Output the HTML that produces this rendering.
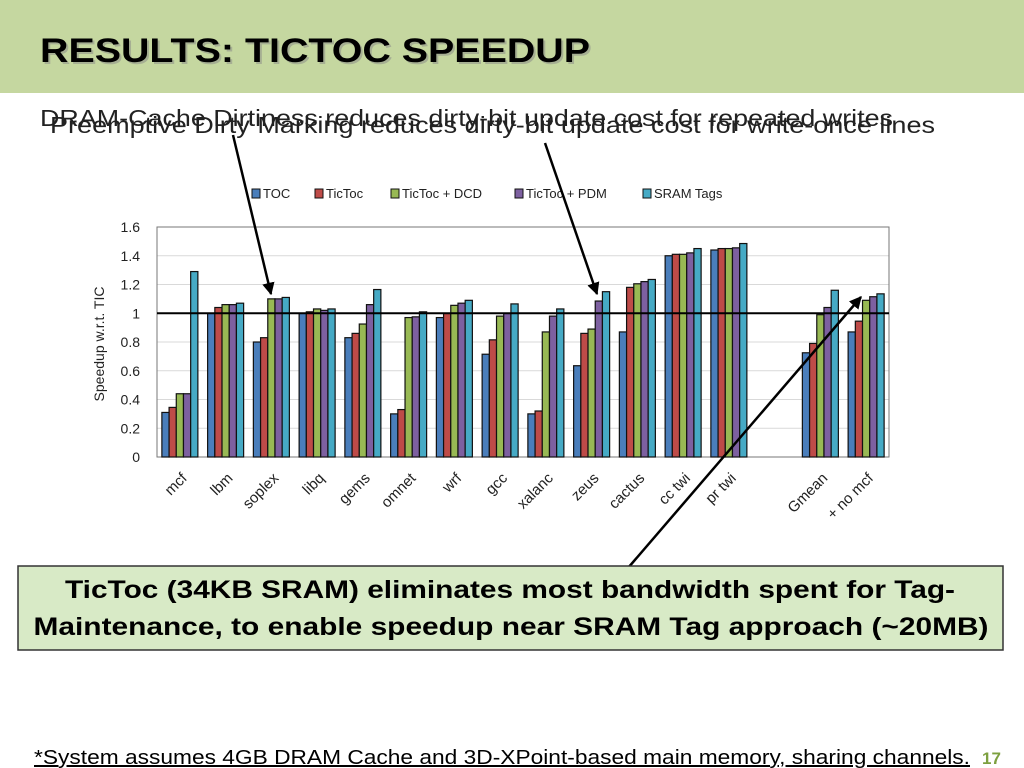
<!DOCTYPE html>
<html><head><meta charset="utf-8"><style>
body{margin:0;width:1024px;height:768px;overflow:hidden;background:#fff;font-family:"Liberation Sans",sans-serif}
svg{display:block}
</style></head><body>
<svg id="s" width="1024" height="768" xmlns="http://www.w3.org/2000/svg">
<defs><marker id="ah" viewBox="0 0 10 10" refX="9" refY="5" markerWidth="5" markerHeight="5" orient="auto"><path d="M0,0 L10,5 L0,10 z" fill="#000"/></marker></defs>
<rect x="0" y="0" width="1024" height="93" fill="#c5d7a0"/>
<text x="42" y="64" font-size="34" font-weight="bold" fill="#888" textLength="550" lengthAdjust="spacingAndGlyphs" opacity="0.5">RESULTS: TICTOC SPEEDUP</text>
<text x="40" y="62" font-size="34" font-weight="bold" fill="#000" textLength="550" lengthAdjust="spacingAndGlyphs">RESULTS: TICTOC SPEEDUP</text>
<text x="40" y="126" font-size="23" fill="#222" textLength="853" lengthAdjust="spacingAndGlyphs">DRAM-Cache Dirtiness reduces dirty-bit update cost for repeated writes</text>
<text x="50" y="133" font-size="23" fill="#222" textLength="885" lengthAdjust="spacingAndGlyphs">Preemptive Dirty Marking reduces dirty-bit update cost for write-once lines</text>
<g id="legend"></g>
<g id="chart"></g>
<line x1="233" y1="135" x2="271" y2="294" stroke="#000" stroke-width="2.5" marker-end="url(#ah)"/>
<line x1="545" y1="143" x2="597" y2="294" stroke="#000" stroke-width="2.5" marker-end="url(#ah)"/>
<line x1="628" y1="568" x2="861" y2="297" stroke="#000" stroke-width="2.5" marker-end="url(#ah)"/>
<rect x="18" y="566" width="985" height="84" fill="#d8eac6" stroke="#333" stroke-width="1.5"/>
<text x="510" y="598" font-size="25" font-weight="bold" text-anchor="middle" textLength="890" lengthAdjust="spacingAndGlyphs">TicToc (34KB SRAM) eliminates most bandwidth spent for Tag-</text>
<text x="511" y="635" font-size="25" font-weight="bold" text-anchor="middle" textLength="955" lengthAdjust="spacingAndGlyphs">Maintenance, to enable speedup near SRAM Tag approach (~20MB)</text>
<text x="34" y="764" font-size="20" text-decoration="underline" textLength="936" lengthAdjust="spacingAndGlyphs">*System assumes 4GB DRAM Cache and 3D-XPoint-based main memory, sharing channels.</text>
<text x="982" y="764" font-size="17" font-weight="bold" fill="#7da040">17</text>
</svg>
<script>
const categories=["mcf","lbm","soplex","libq","gems","omnet","wrf","gcc","xalanc","zeus","cactus","cc twi","pr twi","","Gmean","+ no mcf"];
const seriesNames=["TOC","TicToc","TicToc + DCD","TicToc + PDM","SRAM Tags"];
const toc=[0.31,1.0,0.80,1.0,0.83,0.30,0.97,0.715,0.30,0.635,0.87,1.40,1.44,null,0.725,0.87];
const tictoc=[0.345,1.04,0.83,1.01,0.86,0.33,1.0,0.815,0.32,0.86,1.18,1.41,1.45,null,0.79,0.945];
const dcd=[0.44,1.06,1.10,1.03,0.925,0.97,1.055,0.98,0.87,0.89,1.205,1.41,1.45,null,0.99,1.09];
const pdm=[0.44,1.06,1.10,1.02,1.06,0.975,1.07,1.0,0.98,1.085,1.22,1.42,1.455,null,1.04,1.115];
const sram=[1.29,1.07,1.11,1.03,1.165,1.01,1.09,1.065,1.03,1.15,1.235,1.45,1.485,null,1.16,1.135];
const yTicks=[0,0.2,0.4,0.6,0.8,1,1.2,1.4,1.6];
const series=[toc,tictoc,dcd,pdm,sram];
const colors=["#4a7ebb","#be4b48","#98b954","#7d60a0","#46aac5"];
const NS="http://www.w3.org/2000/svg";
const X0=157,X1=889,Y0=457,Y1=227,YMAX=1.6;
const y=v=>Y0-(v/YMAX)*(Y0-Y1);
const slot=(X1-X0)/categories.length;
const bw=7.2;
const x=(i,j)=>X0+i*slot+(slot-5*bw)/2+j*bw;
const chart=document.getElementById('chart');
function mk(tag,attrs,parent){const e=document.createElementNS(NS,tag);for(const k in attrs)e.setAttribute(k,attrs[k]);parent.appendChild(e);return e;}
yTicks.forEach(t=>{
  if(t>0){const g=mk('line',{x1:X0,x2:X1,y1:y(t),y2:y(t),stroke:'#d9d9d9','stroke-width':1},chart);
  
  }
  const l=mk('text',{x:X0-17,y:y(t)+5,'font-size':14,'text-anchor':'end',fill:'#222'},chart);
  l.textContent=t;
  
  
});
const frame=mk('rect',{x:X0,y:Y1,width:X1-X0,height:Y0-Y1,fill:'none',stroke:'#777','stroke-width':1},chart);


const yt=mk('text',{transform:`translate(104,${(Y0+Y1)/2+2}) rotate(-90)`,'font-size':14,'text-anchor':'middle',fill:'#222'},chart);
yt.textContent='Speedup w.r.t. TIC';


categories.forEach((c,i)=>{
  series.forEach((s,j)=>{
    if(s[i]==null)return;
    const r=mk('rect',{x:x(i,j),y:y(s[i]),width:bw,height:Y0-y(s[i]),fill:colors[j],stroke:'#111','stroke-width':1.2},chart);
    
    
  });
  if(c){
    const cx=X0+i*slot+slot/2+8;
    const t=mk('text',{transform:`translate(${cx},${Y0+22}) rotate(-45)`,'font-size':15,'text-anchor':'end',fill:'#222'},chart);
    t.textContent=c;
    
    
  }
});
const ref=mk('line',{x1:X0,x2:X1,y1:y(1),y2:y(1),stroke:'#000','stroke-width':2},chart);


const legend=document.getElementById('legend');
const lx=[252,315,391,515,643];
seriesNames.forEach((n,j)=>{
  const r=mk('rect',{x:lx[j],y:189,width:8,height:9,fill:colors[j],stroke:'#111','stroke-width':1},legend);
  
  
  const t=mk('text',{x:lx[j]+11,y:198,'font-size':13,fill:'#222'},legend);
  t.textContent=n;
  
  
});
</script>
</body></html>
